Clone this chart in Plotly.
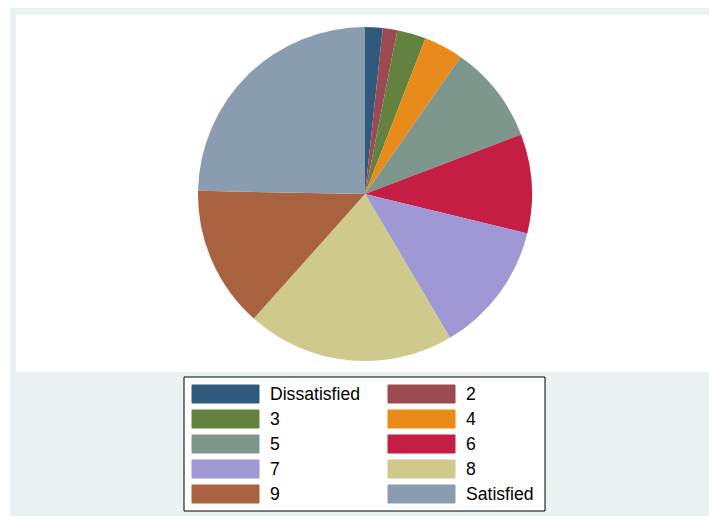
import plotly.graph_objects as go

# Satisfaction ratings: share of responses per level (percent)
labels = ["Dissatisfied", "2", "3", "4", "5", "6", "7", "8", "9", "Satisfied"]
shares = [1.7, 1.4, 2.8, 3.8, 9.5, 9.6, 12.7, 20.1, 13.7, 24.7]
colors = ["#2F5A7E", "#9B4A51", "#64823F", "#E88B1A", "#7E978D",
          "#C41E45", "#9E98D5", "#CFC98C", "#A8623F", "#8A9DB0"]

W, H = 709, 516


def px_x(x):
    return x / W


def px_y(y):
    return 1 - y / H


fig = go.Figure(go.Pie(
    labels=labels,
    values=shares,
    sort=False,
    direction="clockwise",
    rotation=0,
    marker=dict(colors=colors, line=dict(width=0)),
    textinfo="none",
    showlegend=False,
    domain=dict(x=[px_x(198), px_x(532)], y=[px_y(361), px_y(27)]),
))

shapes = [
    # graph region background
    dict(type="rect", xref="paper", yref="paper", layer="below",
         x0=px_x(10), x1=px_x(709), y0=px_y(516), y1=px_y(8),
         fillcolor="#EAF2F3", line=dict(width=0)),
    # plot region
    dict(type="rect", xref="paper", yref="paper", layer="below",
         x0=px_x(16), x1=px_x(709), y0=px_y(372), y1=px_y(15),
         fillcolor="white", line=dict(width=0)),
    # legend box
    dict(type="rect", xref="paper", yref="paper", layer="below",
         x0=px_x(184), x1=px_x(545), y0=px_y(511), y1=px_y(377),
         fillcolor="white", line=dict(color="black", width=1)),
]

annotations = []
col_swatch_x = [192, 388]
col_text_x = [268, 464]
row_top = [385, 410, 435, 460, 485]
sw_w, sw_h = 67, 18
for i, (lab, col) in enumerate(zip(labels, colors)):
    c, r = i % 2, i // 2
    x0 = col_swatch_x[c]
    y0 = row_top[r]
    shapes.append(dict(type="rect", xref="paper", yref="paper",
                       x0=px_x(x0), x1=px_x(x0 + sw_w),
                       y0=px_y(y0 + sw_h), y1=px_y(y0),
                       fillcolor=col, line=dict(color=col, width=1)))
    annotations.append(dict(xref="paper", yref="paper",
                            x=px_x(col_text_x[c]), y=px_y(y0 + sw_h / 2),
                            xanchor="left", yanchor="middle",
                            text=lab, showarrow=False,
                            font=dict(family="Liberation Sans, Arial", size=17.6,
                                      color="black")))

fig.update_layout(
    width=W, height=H,
    margin=dict(l=0, r=0, t=0, b=0),
    paper_bgcolor="white",
    plot_bgcolor="white",
    shapes=shapes,
    annotations=annotations,
)

fig.write_html("out.html")
